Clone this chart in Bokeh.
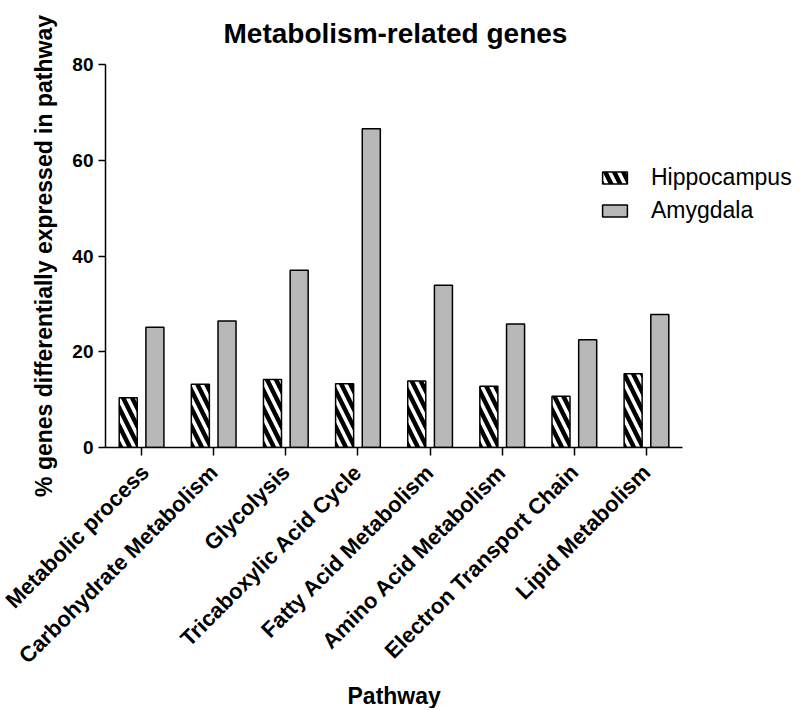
from math import pi
from bokeh.plotting import figure
from bokeh.models import ColumnDataSource, Range1d, Legend, LegendItem, FixedTicker, Title
from bokeh.transform import dodge
from bokeh.embed import file_html
from bokeh.resources import INLINE

pathways = ["Metabolic process", "Carbohydrate Metabolism", "Glycolysis",
            "Tricaboxylic Acid Cycle", "Fatty Acid Metabolism",
            "Amino Acid Metabolism", "Electron Transport Chain", "Lipid Metabolism"]
hippocampus = [10.4, 13.2, 14.2, 13.3, 13.9, 12.8, 10.7, 15.4]
amygdala = [25.1, 26.4, 37.0, 66.6, 33.9, 25.8, 22.5, 27.8]
y_ticks = [0, 20, 40, 60, 80]

FONT = "Liberation Sans"

n = len(pathways)
xpos = [i + 0.5 for i in range(n)]
src = ColumnDataSource(dict(x=xpos, pathway=pathways, hippo=hippocampus, amyg=amygdala))

p = figure(x_range=Range1d(0, n + 1.58), y_range=Range1d(0, 80),
           width=798, height=708,
           output_backend="svg", toolbar_location=None,
           min_border_left=105, min_border_right=2, min_border_top=64,
           min_border_bottom=261)
p.outline_line_color = None
p.xgrid.grid_line_color = None
p.ygrid.grid_line_color = None
p.background_fill_color = "white"

title = Title(text="Metabolism-related genes", align="left", offset=118,
              vertical_align="top", standoff=28,
              text_font=FONT, text_font_size="28px", text_font_style="bold",
              text_color="black")
p.title = title

r1 = p.vbar(x=dodge("x", -0.185), top="hippo", width=0.25,
            source=src, fill_color="white", line_color="black", line_width=1.5,
            hatch_pattern="left_diagonal_line", hatch_color="black",
            hatch_weight=4.5, hatch_scale=18)
r2 = p.vbar(x=dodge("x", 0.185), top="amyg", width=0.25,
            source=src, fill_color="#b8b8b8", line_color="black", line_width=1.5)

for ax in (p.xaxis[0], p.yaxis[0]):
    ax.axis_line_color = "black"
    ax.axis_line_width = 1.5
    ax.major_tick_line_color = "black"
    ax.major_tick_line_width = 1.5
    ax.major_tick_in = 0
    ax.minor_tick_line_color = None
    ax.major_label_text_font = FONT
    ax.major_label_text_font_style = "bold"
    ax.major_label_text_color = "black"
    ax.axis_label_text_font = FONT
    ax.axis_label_text_font_style = "bold"
    ax.axis_label_text_color = "black"

yax = p.yaxis[0]
yax.ticker = FixedTicker(ticks=y_ticks)
yax.major_tick_out = 7
yax.major_label_text_font_size = "19px"
yax.major_label_standoff = 5
yax.axis_label = "% genes differentially expressed in pathway"
yax.axis_label_text_font_size = "23px"
yax.axis_label_standoff = 12

xax = p.xaxis[0]
xax.bounds = (0, n)
xax.ticker = FixedTicker(ticks=xpos)
xax.major_label_overrides = {x: name for x, name in zip(xpos, pathways)}
xax.major_tick_out = 8
xax.major_label_orientation = pi / 4
xax.major_label_text_font_size = "22px"
xax.major_label_standoff = 13

xlabel = Title(text="Pathway", align="left", offset=242, standoff=0,
               text_font=FONT, text_font_size="23px", text_font_style="bold",
               text_color="black")
p.add_layout(xlabel, "below")

legend = Legend(items=[LegendItem(label="Hippocampus", renderers=[r1]),
                       LegendItem(label="Amygdala", renderers=[r2])],
                location=(494, 223), border_line_color=None,
                background_fill_alpha=0, padding=0, margin=0, spacing=6,
                glyph_width=31, glyph_height=15, label_standoff=21,
                label_text_font=FONT, label_text_font_size="23px",
                label_text_color="black")
p.add_layout(legend)

open("out.html", "w").write(file_html(p, INLINE))
